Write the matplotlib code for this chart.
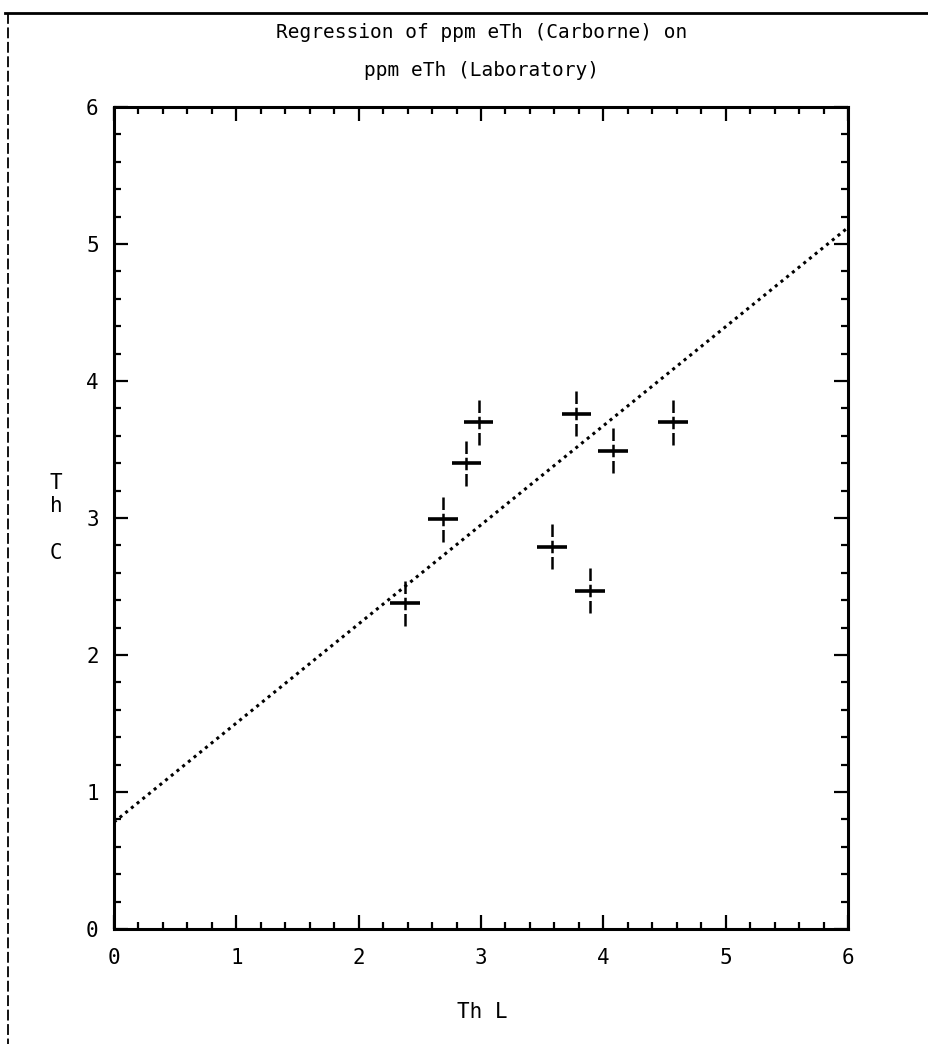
import matplotlib
matplotlib.use("Agg")
import matplotlib.pyplot as plt
from matplotlib.lines import Line2D
from matplotlib.ticker import MultipleLocator

# ppm eTh, laboratory (x) vs carborne (y)
th_lab = [2.38, 2.69, 2.88, 2.98, 3.58, 3.78, 3.89, 4.08, 4.57]
th_carborne = [2.38, 2.99, 3.40, 3.70, 2.79, 3.76, 2.47, 3.49, 3.70]
err_lab = [0.12] * len(th_lab)
err_carborne = [0.165] * len(th_carborne)

# regression line end points
fit_x = [0, 6]
fit_y = [0.78, 5.12]

title_lines = ["Regression of ppm eTh (Carborne) on", "ppm eTh (Laboratory)"]
x_label = "Th L"
y_label = "T\nh\n\nC"

W, H = 929, 1044
FONT = "DejaVu Sans Mono"


def fx(px):
    return px / W


def fy(py):
    return 1 - py / H


def plot_regression():
    fig = plt.figure(figsize=(W / 100, H / 100), dpi=100)
    ax = fig.add_axes([fx(114), fy(929), fx(848) - fx(114), fy(107) - fy(929)])

    ax.plot(fit_x, fit_y, color="black", lw=2.2, ls=(0, (1, 1.4)),
            solid_capstyle="round")

    ax.errorbar(th_lab, th_carborne, xerr=err_lab, fmt="none",
                ecolor="black", elinewidth=2.6, capsize=0)
    eb = ax.errorbar(th_lab, th_carborne, yerr=err_carborne, fmt="none",
                     ecolor="black", elinewidth=1.8, capsize=0)
    eb[2][0].set_linestyle((0, (5, 1.5)))

    ax.set_xlim(0, 6)
    ax.set_ylim(0, 6)
    ax.xaxis.set_major_locator(MultipleLocator(1))
    ax.yaxis.set_major_locator(MultipleLocator(1))
    ax.xaxis.set_minor_locator(MultipleLocator(0.2))
    ax.yaxis.set_minor_locator(MultipleLocator(0.2))

    for s in ax.spines.values():
        s.set_linewidth(2.2)

    ax.tick_params(which="both", direction="in", top=True, right=True,
                   width=1.6, colors="black")
    ax.tick_params(which="major", length=10)
    ax.tick_params(which="minor", length=5)
    ax.tick_params(axis="x", which="major", labelsize=15, pad=14)
    ax.tick_params(axis="y", which="major", labelsize=15, pad=11)
    for lab in ax.get_xticklabels() + ax.get_yticklabels():
        lab.set_family(FONT)

    fig.text(fx(482), fy(33), title_lines[0], family=FONT, fontsize=14,
             ha="center", va="center")
    fig.text(fx(482), fy(71), title_lines[1], family=FONT, fontsize=14,
             ha="center", va="center")
    fig.text(fx(482), fy(1012), x_label, family=FONT, fontsize=15,
             ha="center", va="center")
    fig.text(fx(56), fy(518), y_label, family=FONT, fontsize=15,
             ha="center", va="center", linespacing=1.2)

    # page frame edges from the scan
    fig.add_artist(Line2D([fx(5), 1], [fy(13), fy(13)], color="black", lw=2))
    fig.add_artist(Line2D([fx(8), fx(8)], [fy(13), 0], color="black", lw=1.3,
                          ls=(0, (6, 2))))

    fig.savefig("out.png", dpi=100)
    plt.close(fig)


if __name__ == "__main__":
    plot_regression()
